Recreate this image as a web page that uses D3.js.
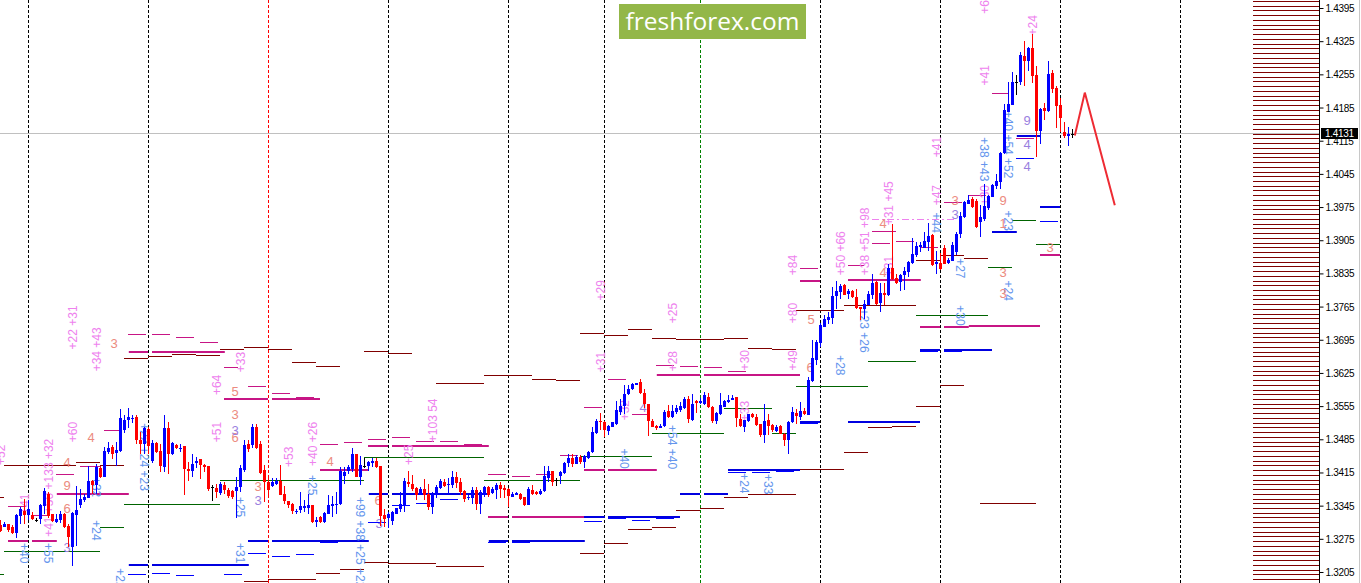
<!DOCTYPE html>
<html><head><meta charset="utf-8">
<style>html,body{margin:0;padding:0;background:#fff;overflow:hidden}svg{display:block}</style>
<script src="https://cdn.jsdelivr.net/npm/d3@7/dist/d3.min.js"></script>
</head><body><svg id="c" width="1361" height="583"></svg>
<script>
const BASE_PRICE = 1.3; // all level values below are pips above this price
// candles: [open, high, low, close]
const ohlc = [[306,316,292,294],[302,313,301,309],[307,309,292,295],[302,305,287,290],[290,330,279,327],[325,343,309,339],[335,360,308,327],[327,358,316,339],[327,334,316,318],[316,320,313,316],
[318,351,308,348],[346,383,330,377],[372,375,320,325],[329,330,313,315],[312,330,311,318],[316,336,311,330],[330,332,299,302],[304,309,260,280],[260,334,220,332],[327,388,262,337],
[348,381,341,360],[358,372,355,365],[363,430,362,398],[398,400,372,390],[390,435,372,428],[426,430,404,406],[407,470,406,461],[460,481,456,467],[470,474,444,455],[458,481,430,463],
[461,549,460,531],[505,537,500,526],[526,551,509,532],[530,538,521,531],[532,538,476,484],[484,502,456,476],[477,512,455,509],[507,512,455,472],[440,484,437,479],[479,481,458,460],
[461,477,418,430],[428,537,418,509],[509,523,414,455],[455,481,453,479],[475,477,465,467],[467,476,460,468],[472,472,369,424],[423,439,398,420],[419,455,407,435],[437,448,425,440],
[444,445,402,432],[433,435,418,428],[430,430,377,381],[386,390,357,386],[384,393,362,376],[374,397,369,393],[390,397,372,379],[380,383,362,367],[378,379,360,365],[378,407,320,385],
[385,432,376,425],[421,484,418,474],[476,484,460,465],[474,518,467,511],[511,519,465,467],[476,483,414,416],[421,432,355,397],[396,407,362,379],[388,404,385,396],[392,404,390,398],
[399,432,369,369],[371,388,351,357],[356,357,341,348],[351,353,330,335],[335,339,330,336],[337,376,332,346],[341,358,334,346],[342,371,330,348],[348,348,311,312],[313,322,302,316],
[323,325,311,312],[313,334,311,332],[330,369,329,348],[346,367,323,350],[347,376,330,351],[350,427,348,420],[409,427,393,418],[420,432,414,428],[423,467,418,455],[455,455,406,407],
[407,451,390,432],[429,446,425,429],[430,440,420,439],[437,446,427,440],[440,446,425,428],[430,430,304,325],[327,339,302,318],[320,334,300,329],[315,336,306,334],[329,341,329,341],
[339,376,334,350],[348,404,334,398],[397,419,385,393],[393,411,377,381],[384,386,358,369],[369,386,369,381],[381,402,358,369],[372,393,337,343],[344,376,330,372],[369,389,362,385],
[383,402,381,398],[397,402,386,388],[391,404,372,392],[390,420,384,407],[407,418,383,395],[396,404,369,376],[377,379,355,360],[362,369,358,364],[363,386,351,379],[379,386,337,350],
[350,379,330,376],[369,388,365,386],[385,388,365,369],[374,385,371,381],[379,395,360,390],[389,397,362,381],[383,390,362,379],[381,383,343,367],[365,376,364,372],[369,376,369,374],
[372,374,358,360],[364,365,346,348],[349,385,348,381],[379,390,369,372],[376,377,369,372],[371,381,369,378],[378,430,376,409],[405,430,397,419],[419,420,388,397],[400,404,388,400],
[409,419,393,418],[416,439,414,437],[437,456,427,446],[446,455,427,435],[435,453,434,448],[448,453,435,438],[439,453,425,451],[446,462,444,459],[459,512,458,502],[500,528,498,525],
[525,542,505,523],[523,525,491,505],[504,516,495,514],[512,523,511,522],[518,567,516,547],[544,570,537,556],[556,600,540,582],[581,600,579,591],[591,605,589,602],[600,605,600,605],
[607,612,581,584],[584,591,551,561],[560,561,493,525],[525,528,511,512],[514,516,505,509],[510,519,509,514],[514,547,512,544],[545,558,530,532],[532,558,530,546],[544,558,539,552],
[547,565,544,556],[552,574,550,571],[571,578,521,529],[526,581,524,561],[567,568,542,563],[563,572,561,566],[561,586,558,579],[576,584,552,554],[554,557,521,524],[524,544,519,541],
[540,584,537,558],[554,568,553,566],[565,579,563,569],[568,580,568,573],[574,574,512,531],[528,540,512,514],[513,527,501,526],[524,540,523,539],[539,541,530,533],[534,539,514,516],
[518,519,491,495],[495,561,478,524],[526,539,495,514],[516,518,502,505],[504,516,502,513],[514,517,497,498],[498,499,472,484],[484,525,455,523],[523,554,521,543],[542,549,519,535],
[533,565,526,545],[545,551,537,540],[538,618,537,610],[608,694,607,656],[652,694,642,690],[688,730,680,727],[723,747,722,740],[736,753,729,744],[742,806,729,788],[787,818,761,797],
[796,813,782,808],[811,813,789,790],[792,803,782,797],[797,800,784,785],[785,803,761,762],[764,765,737,761],[761,778,739,770],[769,798,768,792],[790,834,782,814],[817,819,768,771],
[773,814,754,794],[794,814,768,790],[789,855,787,847],[847,939,820,824],[826,834,813,815],[816,834,798,832],[831,848,799,839],[838,862,827,859],[857,910,855,875],[873,901,869,892],
[890,901,880,894],[889,922,889,904],[901,941,883,913],[915,918,850,853],[855,882,834,858],[857,878,843,845],[888,894,854,855],[857,867,854,864],[862,901,861,894],[880,922,873,918],
[918,964,910,955],[953,988,952,985],[981,1000,980,990],[991,995,972,974],[987,992,931,933],[942,978,911,953],[950,1023,946,976],[973,999,969,997],[996,1023,995,1020],[1018,1044,1013,1030],
[1028,1090,1013,1088],[1087,1191,1086,1179],[1175,1237,1174,1191],[1190,1259,1188,1238],[1237,1251,1210,1237],[1237,1301,1230,1295],[1293,1324,1228,1281],[1281,1310,1261,1308],[1308,1339,1235,1249],[1253,1272,1079,1134],
[1135,1183,1107,1181],[1182,1193,1157,1176],[1177,1282,1174,1254],[1257,1263,1214,1223],[1225,1228,1140,1186],[1188,1203,1132,1162],[1133,1154,1120,1123],[1123,1143,1103,1128],[1128,1139,1119,1128]];
// period separators: bar index
const separators = [7,37,97,127,151,205,235,265,295];
const separatorRed = [67];
const separatorGreen = [175];
// level segments: [fromBar, toBar, pips]
const maroonLevels = [[0,1,365],[1,19,433],[19,25,438],[25,31,433],[31,37,658],[37,43,662],[43,49,666],[49,55,664],[55,61,676],[61,67,681],[67,73,676],[73,79,649],[79,85,641],[91,97,671],[97,103,667],[109,121,604],[121,133,621],[133,139,612],[139,145,610],[145,151,710],[151,157,706],[157,163,717],[163,169,700],[169,175,698],[175,181,696],[181,187,700],[187,193,679],[193,199,677],[199,211,759],[211,229,768],[229,235,864],[235,241,874],[241,247,868],[61,67,188],[67,79,192],[79,85,205],[85,91,214],[91,97,228],[97,109,226],[109,121,220],[145,151,246],[151,157,269],[157,163,297],[163,169,302],[169,175,337],[175,181,342],[181,187,365],[187,199,371],[200,211,423],[211,217,459],[217,223,512],[223,229,515],[229,235,556],[235,241,600],[245,259,352]];
const greenLevels = [[0,1,203],[1,25,251],[25,31,302],[31,55,351],[55,91,400],[91,121,449],[121,145,400],[145,163,451],[163,181,500],[181,193,551],[193,199,500],[199,217,599],[217,229,650],[229,247,748],[247,253,849],[253,259,948],[259,265,897]];
const magentaThin = [[2,6.5,345],[8,12,327],[14,18.5,414],[20,25,429],[26,30,505],[32,36.5,708],[38,42.5,707],[44,48.5,701],[50,54.5,690],[56,59.5,638],[62,66.5,598],[68,72.5,583],[80,84.5,476],[86,90.5,480],[92,96.5,486],[98,102.5,491],[104,108.5,483],[110,114.5,482],[116,120.5,477],[122,126.5,413],[128,132.5,409],[134,138.5,414],[140,144.5,453],[146,150.5,555],[152,156.5,612],[158,162,540],[164,168.5,643],[170,174.5,641],[176,180.5,639],[182,186.5,629],[200,204.5,847],[212,216,853],[218,222.5,899],[218,224,923],[224,228.5,904],[230,234.5,891],[236,240.5,986],[242,246.5,1000],[248,252,1214],[254,258.5,1119]];
const magentaThick = [[2,7,274],[8,14.2,274],[14.2,32.2,373],[32.2,37,671],[38,56.2,671],[56,67,573],[68,80,573],[74,78.5,575],[80,92,423],[92,97,474],[98,122.2,474],[122,127,325],[128,146.2,325],[146,151.2,423],[152,164.2,423],[164.2,175,623],[176,200,623],[200,205,822],[212,230.2,823],[230,235,724],[236,242.2,724],[242.2,260,726],[260,265,875]];
const violetDash = [[218,239,949]];
const blueThin = [[32,36.5,203],[38,42.5,205],[44,48.5,201],[56,60.5,203],[62,66.5,246],[68,72.5,241],[74,78.5,245],[80,84.5,270],[92,96.5,312],[98,102.5,348],[104,108.5,352],[110,114.5,360],[122,126.5,270],[128,132.5,271],[134,138.5,272],[146,150.5,314],[152,156.5,321],[158,162.5,316],[164,168.5,321],[182,186.5,417],[188,192.5,417],[194,198.5,420],[200,204.5,520],[230,234.5,671],[236,240.5,671],[254,258.5,1077],[260,264.5,946]];
const blueThick = [[32.2,37,224],[38,62.2,224],[62,67,274],[68,92.2,274],[92.2,97,373],[98,122.2,373],[122.2,127,274],[128,146.2,274],[146,151.2,325],[152,170,325],[170,175,373],[176,182,373],[182,200,423],[200,205,524],[212,230,524],[230,235,675],[236,248,675],[248,254.2,925],[254.2,260,1125],[260,265,976]];
// pink labels read upward: [bar, pips at foot of text, text]
const pinkLabels = [[18,675,"+22 +31"],[24,629,"+34 +43"],[18,480,"+60"],[54,579,"+64"],[60,627,"+33"],[54,480,"+51"],[72,428,"+53"],[78,430,"+40 +26"],[0,432,"+52"],[6,329,"+41"],[12,281,"+41 +50 +133 +32"],[102,432,"+25"],[108,480,"+103 54"],[156,526,"+32"],[150,778,"+29"],[150,627,"+31"],[168,730,"+25"],[168,629,"+28"],[186,631,"+30"],[198,631,"+49"],[198,730,"+80"],[198,831,"+84"],[186,524,"+33"],[210,831,"+50 +66"],[216,831,"+38 +51 +98"],[222,936,"+31 +45"],[222,829,"+31"],[234,978,"+47"],[234,1079,"+41"],[246,978,"+30"],[246,1230,"+41"],[246,1381,"+6"],[258,1335,"+24"]];
// blue labels read downward: [bar, pips at head of text, text]
const blueLabels = [[6,268,"+40"],[12,268,"+55"],[24,316,"+24"],[24,407,"+32"],[36,520,"+22 +24 +23"],[60,365,"+25"],[60,268,"+31"],[30,215,"+22"],[78,411,"+25"],[90,365,"+99 +38 +25 +22"],[156,467,"+40"],[168,516,"+54 +40"],[186,415,"+24"],[192,413,"+33"],[210,663,"+28"],[216,761,"+23 +26"],[234,963,"+44"],[240,867,"+27"],[240,768,"+30"],[252,820,"+24"],[252,967,"+23"],[252,1177,"+40 +54 +52"],[246,1121,"+38 +43"]];
// small counters: [bar, pips, text]
const salmonCounts = [[16.75,390,"9"],[16.75,438,"4"],[22.75,491,"4"],[16.75,342,"6"],[28.5,688,"3"],[58.75,587,"5"],[58.75,539,"3"],[58.75,491,"6"],[64.5,388,"3"],[82.5,440,"4"],[94.5,358,"6"],[202.75,738,"5"],[202.5,638,"6"],[220.75,940,"4"],[220.75,837,"4"],[238.75,990,"3"],[250.75,990,"9"],[250.75,940,"1"],[250.75,837,"3"],[250.75,793,"3"],[262.5,890,"3"]];
const violetCounts = [[16.75,260,"3"],[58.75,505,"3"],[64.5,358,"3"],[94.75,310,"3"],[160.75,554,"4"],[238.75,959,"3"],[256.75,1158,"9"],[256.75,1108,"4"],[256.75,1060,"4"]];
// forecast path: [bar, pips]
const forecast = [[268.7,1125],[271.2,1215],[278.7,978]];
const tickLabels = [1.4395,1.4325,1.4255,1.4185,1.4115,1.4045,1.3975,1.3905,1.3835,1.3765,1.3695,1.3625,1.3555,1.3485,1.3415,1.3345,1.3275,1.3205];
const lastPrice = 1.4131;
const brand = "freshforex.com";
const hatchLevels = d3.range(1.319,1.4415,0.001);

const svg = d3.select("#c");
const x = d3.scaleLinear().domain([0,340]).range([0,1360]);
const y = d3.scaleLinear().domain([1.3205,1.4395]).range([573,7]);
const axisY = d3.scaleLinear().domain([1.3205,1.4395]).range([572,8]);
const py = p => y(BASE_PRICE + p/10000);

// separators
function vlines(list,col){
  svg.append("g").selectAll("line").data(list).join("line")
    .attr("x1",d=>x(d)+.5).attr("x2",d=>x(d)+.5).attr("y1",0).attr("y2",583)
    .attr("stroke",col).attr("stroke-width",1).attr("stroke-dasharray","3,2");
}
vlines(separators,"#000"); vlines(separatorRed,"#f00"); vlines(separatorGreen,"#008000");

// price line
const ly = Math.round(axisY(lastPrice));
svg.append("line").attr("x1",0).attr("x2",1320).attr("y1",ly+.5).attr("y2",ly+.5).attr("stroke","#c0c0c0");

// hatch at right
svg.append("g").selectAll("rect").data(hatchLevels).join("rect")
  .attr("x",1253).attr("width",66).attr("y",d=>Math.round(axisY(d))).attr("height",1).attr("fill","#800000");

// levels
function levels(list,col,h){
  svg.append("g").selectAll("rect").data(list).join("rect")
    .attr("x",d=>x(d[0])).attr("width",d=>x(d[1])-x(d[0]))
    .attr("y",d=>Math.round(py(d[2]))).attr("height",h).attr("fill",col);
}
levels(greenLevels,"#006400",1);
levels(maroonLevels,"#800000",1);
levels(magentaThin,"#C71585",1);
levels(blueThin,"#0000FF",1);
levels(magentaThick,"#C71585",2);
levels(blueThick,"#0000E0",2);
svg.append("g").selectAll("line").data(violetDash).join("line")
  .attr("x1",d=>x(d[0])).attr("x2",d=>x(d[1])).attr("y1",d=>Math.round(py(d[2]))+.5).attr("y2",d=>Math.round(py(d[2]))+.5)
  .attr("stroke","#EE82EE").attr("stroke-dasharray","7,3,2,3");

// rotated labels
function rotated(list,col,angle,dx){
  svg.append("g").selectAll("text").data(list).join("text")
    .attr("transform",d=>`translate(${x(d[0])+dx},${py(d[1])}) rotate(${angle})`)
    .attr("fill",col).attr("font-family","'Liberation Sans',Arial,sans-serif").attr("font-size",12)
    .text(d=>d[2]);
}
rotated(pinkLabels,"#EE82EE",-90,4.5);
rotated(blueLabels,"#6495ED",90,-4);
function counts(list,col){
  svg.append("g").selectAll("text").data(list).join("text")
    .attr("x",d=>x(d[0])).attr("y",d=>py(d[1])+5).attr("text-anchor","middle")
    .attr("fill",col).attr("font-family","'Liberation Sans',Arial,sans-serif").attr("font-size",13)
    .text(d=>d[2]);
}
counts(salmonCounts,"#EC8B80");
counts(violetCounts,"#9A7FE0");

// candles
const colorOf = d => d[0]===d[3] ? "#000" : (d[3]>d[0] ? "#0000FF" : "#FF0000");
const cg = svg.append("g").attr("shape-rendering","crispEdges");
cg.selectAll("rect.w").data(ohlc).join("rect").attr("class","w")
  .attr("x",(d,i)=>x(i)).attr("width",1)
  .attr("y",d=>Math.round(py(d[1]))).attr("height",d=>Math.max(1,Math.round(py(d[2]))-Math.round(py(d[1]))))
  .attr("fill",colorOf);
cg.selectAll("rect.b").data(ohlc.filter(d=>d[0]!==d[3])).join("rect").attr("class","b")
  .attr("x",d=>x(ohlc.indexOf(d))-1).attr("width",3)
  .attr("y",d=>Math.round(py(Math.max(d[0],d[3])))).attr("height",d=>Math.max(1,Math.round(py(Math.min(d[0],d[3])))-Math.round(py(Math.max(d[0],d[3])))))
  .attr("fill",colorOf);
// doji cross bars
cg.selectAll("rect.d").data(ohlc.filter(d=>d[0]===d[3])).join("rect").attr("class","d")
  .attr("x",d=>x(ohlc.indexOf(d))-1).attr("width",3)
  .attr("y",d=>Math.round(py(d[0]))).attr("height",1).attr("fill","#000");

// forecast
svg.append("path").attr("d",d3.line().x(d=>x(d[0])).y(d=>py(d[1]))(forecast))
  .attr("fill","none").attr("stroke","#EE2B33").attr("stroke-width",2);

// logo
svg.append("rect").attr("x",619).attr("y",4).attr("width",187).attr("height",35).attr("fill","#93B748");
svg.append("text").attr("x",712.5).attr("y",30).attr("text-anchor","middle").attr("fill","#fff")
  .attr("font-family","'Open Sans',sans-serif").attr("font-size",24.5).text(brand);

// axis
const axis = d3.axisRight(axisY).tickValues(tickLabels).tickFormat(d3.format(".4f")).tickSize(4).tickPadding(2);
const ag = svg.append("g").attr("transform","translate(1319.5,0)").call(axis);
ag.select(".domain").remove();
ag.selectAll("text").attr("font-family","'Liberation Sans',Arial,sans-serif").attr("font-size",10).attr("fill","#000").attr("dy","0.35em").attr("x",6).attr("letter-spacing","-0.3");
svg.append("line").attr("x1",1319.5).attr("x2",1319.5).attr("y1",0).attr("y2",583).attr("stroke","#000");
svg.append("line").attr("x1",1359.5).attr("x2",1359.5).attr("y1",0).attr("y2",583).attr("stroke","#c8c8c8");

// last price tag
svg.append("rect").attr("x",1321).attr("y",ly-5).attr("width",37).attr("height",11).attr("fill","#000");
svg.append("text").attr("x",1325).attr("y",ly+4).attr("fill","#fff").attr("font-family","'Liberation Sans',Arial,sans-serif").attr("font-size",10).attr("letter-spacing","-0.3").text(d3.format(".4f")(lastPrice));
</script></body></html>
